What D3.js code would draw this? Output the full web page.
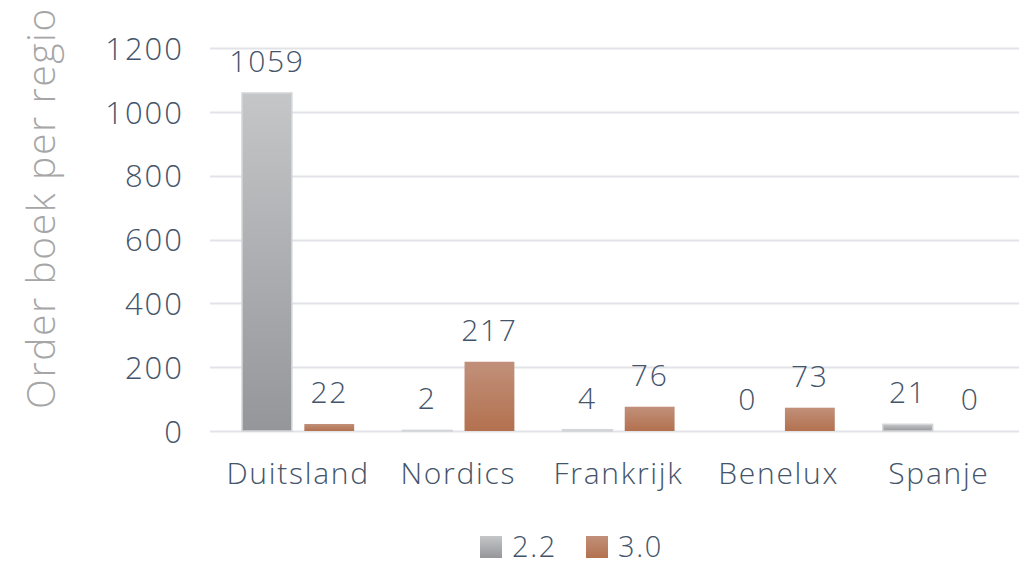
<!DOCTYPE html>
<html>
<head>
<meta charset="utf-8">
<script src="https://cdn.jsdelivr.net/npm/d3@7"></script>
<style>
  body { margin: 0; background: #fff; }
  text { font-family: "Open Sans", sans-serif; font-weight: 300; }
</style>
</head>
<body>
<div id="chart"></div>
<script>
// chart data
const regions = ['Duitsland', 'Nordics', 'Frankrijk', 'Benelux', 'Spanje'];
const seriesNames = ['2.2', '3.0'];
const values22 = [1059, 2, 4, 0, 21];
const values30 = [22, 217, 76, 73, 0];
const yTicks = [0, 200, 400, 600, 800, 1000, 1200];

const width = 1035, height = 565;
const margin = { top: 48, right: 16, bottom: 134, left: 218 };
const textColor = '#44546a';

const svg = d3.select('#chart').append('svg')
  .attr('width', width)
  .attr('height', height);

const defs = svg.append('defs');
const grads = [
  { id: 'g22', top: '#c5c6c8', bottom: '#95969a' },
  { id: 'g30', top: '#c1907a', bottom: '#b3714f' }
];
grads.forEach((g) => {
  const lg = defs.append('linearGradient')
    .attr('id', g.id).attr('x1', 0).attr('y1', 0).attr('x2', 0).attr('y2', 1);
  lg.append('stop').attr('offset', '0%').attr('stop-color', g.top);
  lg.append('stop').attr('offset', '100%').attr('stop-color', g.bottom);
});

const x = d3.scaleBand()
  .domain(regions)
  .range([margin.left, width - margin.right])
  .paddingInner(0.3)
  .paddingOuter(0.15);

const xInner = d3.scaleBand()
  .domain(seriesNames)
  .range([0, x.bandwidth()])
  .paddingInner(0.2);

const y = d3.scaleLinear()
  .domain([0, 1200])
  .range([height - margin.bottom, margin.top]);

// gridlines
svg.append('g')
  .selectAll('line')
  .data(yTicks)
  .join('line')
  .attr('x1', margin.left - 8)
  .attr('x2', width - margin.right)
  .attr('y1', (d) => Math.round(y(d)) + 0.5)
  .attr('y2', (d) => Math.round(y(d)) + 0.5)
  .attr('stroke', '#e1e3e8')
  .attr('stroke-width', 2);

// y axis labels
const yAxis = svg.append('g')
  .attr('transform', `translate(${margin.left - 34},0)`)
  .call(d3.axisLeft(y).tickValues(yTicks).tickFormat(d3.format('d')).tickSize(0).tickPadding(0));
yAxis.select('.domain').remove();
yAxis.selectAll('text')
  .attr('fill', textColor)
  .style('font-size', '31px')
  .style('letter-spacing', '2px')
  .attr('dy', '0.36em');

// x axis labels
const xAxis = svg.append('g')
  .attr('transform', `translate(0,${height - margin.bottom})`)
  .call(d3.axisBottom(x).tickSize(0).tickPadding(32));
xAxis.select('.domain').remove();
xAxis.selectAll('text')
  .attr('fill', textColor)
  .style('font-size', '30px')
  .style('letter-spacing', '1.7px');

// axis title
svg.append('text')
  .attr('transform', `translate(55,${(8 + 408) / 2}) rotate(-90)`)
  .attr('text-anchor', 'middle')
  .attr('fill', '#a6a6a6')
  .style('font-size', '39px')
  .style('letter-spacing', '1.6px')
  .text('Order boek per regio');

// bars
const rows = regions.map((r, i) => ({
  region: r,
  vals: [
    { key: '2.2', value: values22[i], grad: 'g22' },
    { key: '3.0', value: values30[i], grad: 'g30' }
  ]
}));

const groups = svg.append('g')
  .selectAll('g')
  .data(rows)
  .join('g')
  .attr('transform', (d) => `translate(${x(d.region)},0)`);

groups.selectAll('rect')
  .data((d) => d.vals)
  .join('rect')
  .attr('x', (d) => xInner(d.key))
  .attr('width', xInner.bandwidth())
  .attr('y', (d) => y(d.value))
  .attr('height', (d) => y(0) - y(d.value))
  .attr('fill', (d) => `url(#${d.grad})`)
  .attr('stroke', (d) => (d.key === '2.2' ? '#d4d5d7' : 'none'))
  .attr('stroke-width', 1.5);

groups.selectAll('text.lbl')
  .data((d) => d.vals)
  .join('text')
  .attr('class', 'lbl')
  .attr('x', (d) => xInner(d.key) + xInner.bandwidth() / 2)
  .attr('y', (d) => y(d.value) - 21)
  .attr('text-anchor', 'middle')
  .attr('fill', textColor)
  .style('font-size', '30px')
  .style('letter-spacing', '1.7px')
  .text((d) => d.value);

// legend
const legend = svg.append('g').attr('transform', 'translate(480,536)');
const legendItems = [
  { name: seriesNames[0], grad: 'g22', dx: 0 },
  { name: seriesNames[1], grad: 'g30', dx: 106 }
];
legendItems.forEach((it) => {
  const g = legend.append('g').attr('transform', `translate(${it.dx},0)`);
  g.append('rect').attr('width', 22).attr('height', 22).attr('fill', `url(#${it.grad})`);
  g.append('text')
    .attr('x', 32).attr('y', 21)
    .attr('fill', textColor)
    .style('font-size', '29px')
    .style('letter-spacing', '1.7px')
    .text(it.name);
});
</script>
</body>
</html>
